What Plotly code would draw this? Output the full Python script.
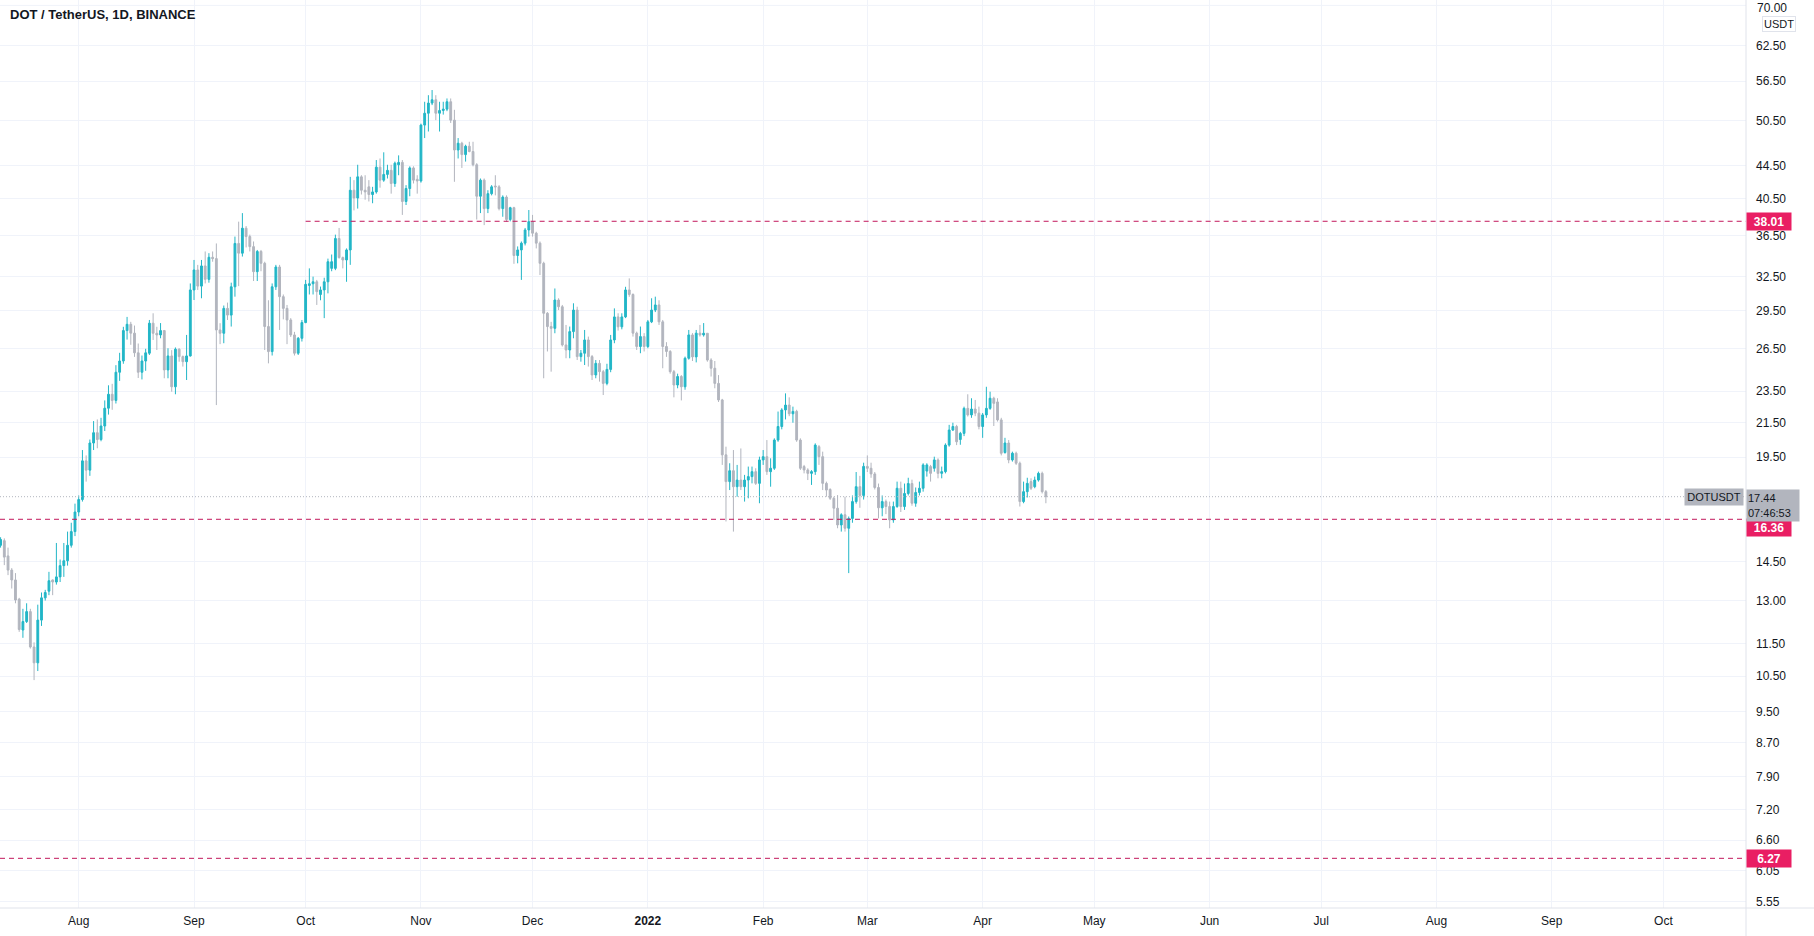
import numpy as np
import pandas as pd
import plotly.graph_objects as go

# ---------------- data: daily OHLC (open, high, low, close) ----------------
jul_2021 = [  # Jul 11 .. Jul 31
    (15.2, 15.55, 15.1, 15.45), (15.4, 15.5, 14.37, 14.7), (14.75, 15.1, 13.97, 14.17),
    (14.17, 14.25, 13.45, 13.78), (13.78, 14.05, 12.9, 13.02), (13.05, 13.1, 11.9, 11.98),
    (11.96, 12.7, 11.7, 12.25), (12.25, 12.9, 12.2, 12.6), (12.6, 12.7, 11.35, 11.4),
    (11.4, 11.55, 10.38, 10.9), (10.9, 12.85, 10.65, 12.3), (12.3, 13.3, 12.1, 13.1),
    (13.1, 13.4, 13.0, 13.3), (13.35, 14.1, 13.2, 13.75), (13.78, 13.8, 13.2, 13.7),
    (13.7, 15.3, 13.6, 13.9), (13.9, 14.6, 13.7, 14.35), (14.35, 15.3, 13.9, 14.55),
    (14.55, 15.8, 14.35, 15.2), (15.2, 16.2, 15.1, 15.8), (15.8, 17.1, 15.6, 16.7),
]
aug_2021 = [
    (16.7, 17.5, 16.5, 17.3), (17.3, 19.9, 17.2, 19.3), (19.3, 19.6, 18.2, 18.8),
    (18.8, 20.5, 18.5, 20.3), (20.3, 21.6, 19.9, 20.9), (20.9, 21.7, 20.0, 20.5),
    (20.5, 21.8, 20.4, 21.3), (21.3, 22.9, 21.0, 22.4), (22.4, 23.9, 22.0, 23.3),
    (23.3, 24.0, 22.3, 22.9), (22.9, 25.3, 22.7, 24.8), (24.8, 26.2, 24.2, 25.6),
    (25.6, 28.2, 25.4, 27.9), (27.9, 29.0, 27.2, 28.4), (28.4, 28.6, 26.8, 27.7),
    (27.7, 28.3, 25.9, 26.2), (26.2, 26.9, 24.4, 24.8), (24.8, 26.0, 24.3, 25.6),
    (25.6, 26.5, 24.9, 26.2), (26.17, 28.75, 26.04, 28.49), (28.49, 29.3, 27.17, 27.69),
    (27.69, 28.2, 26.41, 27.56), (27.56, 28.5, 27.3, 27.9), (27.9, 27.95, 24.38, 24.96),
    (24.96, 26.54, 24.38, 25.97), (25.97, 26.4, 23.47, 23.8), (23.8, 26.6, 23.3, 26.47),
    (26.47, 26.54, 25.55, 25.92), (25.92, 26.0, 25.2, 25.55), (25.55, 27.56, 24.26, 25.97),
    (25.97, 31.88, 25.92, 31.3),
]
sep_2021 = [
    (31.3, 34.07, 30.42, 33.12), (33.12, 33.6, 31.3, 31.64), (31.64, 34.07, 30.57, 33.5),
    (33.5, 34.9, 31.88, 32.25), (32.25, 34.73, 31.95, 34.33), (34.33, 34.9, 33.9, 34.2),
    (34.2, 35.7, 22.6, 27.95), (27.95, 28.49, 26.85, 27.69), (27.69, 29.95, 26.92, 29.71),
    (29.71, 30.2, 28.75, 29.15), (29.15, 31.95, 28.22, 31.58), (31.58, 36.4, 30.71, 35.7),
    (35.7, 37.97, 31.64, 34.73), (34.73, 38.9, 34.4, 37.27), (37.27, 37.5, 35.3, 36.4),
    (36.4, 36.6, 34.9, 35.38), (35.38, 35.9, 32.1, 32.96), (32.96, 35.05, 32.1, 34.9),
    (34.9, 35.05, 33.0, 33.75), (33.75, 33.9, 26.41, 28.22), (28.22, 30.4, 25.43, 26.29),
    (26.29, 31.88, 26.0, 31.58), (31.58, 33.6, 31.3, 33.4), (33.4, 33.6, 27.95, 30.71),
    (30.71, 30.9, 28.8, 29.71), (29.71, 30.0, 26.85, 28.75), (28.75, 28.9, 27.4, 27.56),
    (27.56, 27.8, 26.0, 26.17), (26.17, 27.4, 26.04, 27.3), (27.3, 28.75, 27.05, 28.54),
]
oct_2021 = [
    (28.54, 32.2, 28.49, 31.8), (31.7, 33.27, 30.9, 31.85), (31.85, 32.5, 30.9, 32.03),
    (32.03, 32.2, 30.0, 31.15), (30.9, 31.6, 30.4, 31.3), (31.3, 32.4, 28.9, 32.03),
    (32.03, 34.2, 31.0, 33.9), (33.27, 34.6, 33.0, 33.9), (33.27, 36.6, 33.1, 36.2),
    (36.2, 37.3, 34.2, 34.3), (34.3, 34.4, 33.27, 34.07), (34.07, 35.2, 32.03, 35.05),
    (35.05, 43.1, 33.6, 41.5), (41.5, 42.7, 39.2, 40.6), (40.6, 44.6, 39.4, 43.1),
    (43.1, 43.3, 41.0, 41.5), (41.5, 43.3, 40.4, 41.3), (41.9, 42.7, 40.2, 41.0),
    (41.0, 41.9, 40.0, 41.3), (41.3, 45.2, 41.1, 44.3), (44.3, 45.4, 41.8, 42.7),
    (42.7, 46.2, 42.5, 43.4), (43.4, 44.6, 42.9, 43.9), (43.9, 44.6, 41.1, 42.3),
    (42.3, 45.0, 41.9, 44.8), (44.6, 45.8, 43.3, 44.9), (44.9, 45.2, 38.7, 40.2),
    (40.2, 42.1, 39.8, 41.7), (41.7, 44.4, 40.8, 44.2), (44.2, 44.4, 42.3, 42.7),
    (42.8, 43.3, 41.1, 42.6),
]
nov_2021 = [
    (42.6, 50.1, 42.4, 49.9), (49.9, 53.3, 48.1, 51.6), (51.6, 54.3, 49.0, 53.1),
    (53.1, 55.1, 52.8, 53.6), (53.6, 54.3, 50.6, 51.6), (51.6, 53.3, 49.0, 52.0),
    (52.0, 53.3, 51.4, 52.2), (52.2, 53.8, 51.9, 53.3), (53.3, 53.8, 50.2, 50.6),
    (50.6, 52.1, 42.5, 46.5), (46.5, 48.1, 45.4, 47.4), (47.4, 47.6, 44.2, 45.9),
    (45.9, 47.2, 45.0, 47.0), (47.0, 47.6, 46.2, 46.3), (46.3, 47.6, 44.4, 44.6),
    (44.6, 44.8, 38.2, 40.8), (40.8, 42.9, 38.9, 42.7), (42.7, 42.9, 37.6, 39.4),
    (39.4, 41.5, 38.9, 41.1), (41.1, 42.1, 40.9, 41.9), (42.0, 43.3, 40.9, 41.9),
    (41.9, 42.1, 39.2, 39.4), (39.4, 40.9, 38.5, 40.7), (40.7, 40.9, 37.97, 38.2),
    (38.2, 39.6, 38.0, 39.5), (39.5, 39.6, 33.7, 34.5), (34.5, 35.4, 33.75, 35.05),
    (35.05, 35.9, 32.2, 35.73), (35.73, 37.3, 35.5, 37.09), (37.09, 39.24, 36.4, 37.97),
]
dec_2021 = [
    (37.97, 38.7, 36.4, 36.75), (36.75, 36.9, 35.2, 35.73), (35.73, 35.9, 32.65, 33.75),
    (33.75, 33.9, 24.38, 29.3), (29.3, 29.4, 26.3, 28.22), (28.22, 28.6, 24.84, 28.08),
    (28.08, 31.43, 27.69, 30.42), (30.42, 30.57, 29.57, 29.85), (29.85, 30.0, 26.67, 26.79),
    (26.79, 28.35, 25.8, 26.41), (26.41, 28.22, 25.8, 27.82), (27.82, 30.14, 27.3, 29.57),
    (29.57, 29.85, 25.67, 25.92), (25.92, 26.41, 25.55, 26.17), (26.17, 27.95, 25.31, 27.17),
    (27.17, 27.43, 25.2, 25.92), (25.92, 26.04, 24.26, 24.61), (24.61, 25.67, 24.38, 25.43),
    (25.43, 25.67, 24.15, 24.84), (24.84, 24.96, 23.25, 24.03), (24.03, 25.4, 23.9, 25.0),
    (25.0, 27.56, 24.8, 27.17), (27.17, 29.71, 26.92, 29.0), (29.0, 29.3, 27.9, 28.2),
    (28.2, 29.3, 28.0, 29.0), (29.0, 31.58, 28.9, 31.3), (31.3, 32.34, 30.7, 30.9),
    (30.9, 31.0, 27.43, 27.7), (27.7, 27.82, 26.41, 26.67), (26.67, 28.22, 26.17, 27.43),
    (27.43, 27.7, 26.3, 26.67),
]
jan_2022 = [
    (26.67, 28.75, 26.54, 28.6), (28.6, 30.57, 28.5, 29.57), (29.57, 30.71, 29.4, 30.0),
    (30.0, 30.4, 28.35, 28.6), (28.6, 28.75, 25.08, 26.67), (26.67, 27.0, 25.9, 26.3),
    (26.3, 26.4, 24.7, 24.84), (24.84, 24.96, 23.1, 23.92), (23.92, 24.7, 23.7, 24.5),
    (24.5, 24.6, 22.9, 23.8), (23.8, 25.92, 23.6, 25.8), (25.8, 27.95, 25.7, 27.56),
    (27.56, 27.7, 25.6, 25.9), (25.9, 27.95, 25.5, 27.7), (27.7, 28.35, 27.43, 27.56),
    (27.56, 28.5, 27.43, 27.69), (27.69, 27.69, 25.55, 25.67), (25.67, 25.8, 24.5, 25.08),
    (25.08, 25.6, 23.7, 24.03), (24.03, 24.6, 22.8, 22.93), (22.93, 23.0, 19.08, 19.63),
    (19.63, 20.09, 16.26, 18.2), (18.2, 19.17, 17.77, 18.77), (18.77, 19.9, 15.8, 17.94),
    (17.94, 19.08, 17.44, 18.28), (18.28, 19.99, 17.77, 17.94), (17.94, 18.55, 17.2, 18.28),
    (18.28, 18.99, 17.36, 18.46), (18.46, 18.99, 18.11, 18.72), (18.72, 18.9, 18.03, 18.11),
    (18.11, 19.53, 17.12, 19.35),
]
feb_2022 = [
    (19.35, 19.9, 19.08, 19.53), (19.53, 20.47, 18.55, 18.72), (18.72, 19.44, 17.94, 18.9),
    (18.9, 20.57, 18.81, 20.47), (20.47, 22.19, 20.37, 21.27), (21.27, 22.4, 21.1, 22.29),
    (22.29, 23.36, 21.7, 22.6), (22.6, 23.1, 21.9, 22.05), (22.05, 22.5, 21.5, 22.2),
    (22.2, 22.3, 20.37, 20.47), (20.47, 20.57, 18.81, 18.9), (18.99, 19.08, 18.63, 18.81),
    (18.81, 18.9, 18.28, 18.63), (18.63, 18.8, 18.03, 18.72), (18.72, 20.28, 18.55, 20.18),
    (20.09, 20.18, 19.08, 19.53), (19.53, 19.81, 17.77, 18.11), (18.11, 18.2, 17.44, 17.77),
    (17.8, 17.86, 17.28, 17.36), (17.36, 17.44, 16.33, 16.88), (16.88, 17.52, 15.95, 16.1),
    (16.1, 16.64, 15.8, 16.57), (16.57, 17.44, 15.8, 15.95), (15.95, 16.49, 14.05, 16.4),
    (16.4, 17.5, 16.2, 17.2), (17.2, 18.7, 17.1, 17.94), (17.94, 18.5, 16.9, 17.5),
    (17.5, 19.2, 17.3, 19.0),
]
mar_2022 = [
    (19.0, 19.6, 18.7, 18.9), (18.9, 19.2, 18.4, 18.6), (18.6, 18.7, 17.8, 17.9),
    (17.9, 18.1, 16.4, 16.9), (16.9, 17.5, 16.5, 17.2), (17.2, 17.3, 16.6, 16.96),
    (16.96, 17.2, 15.95, 16.33), (16.33, 17.2, 16.2, 16.96), (16.96, 18.2, 16.9, 17.86),
    (17.86, 18.2, 16.7, 16.96), (16.96, 18.1, 16.8, 17.6), (17.6, 18.4, 17.5, 18.1),
    (18.1, 18.3, 17.0, 17.12), (17.12, 17.9, 16.95, 17.65), (17.65, 18.2, 17.5, 17.86),
    (17.86, 19.17, 17.69, 19.08), (18.75, 19.17, 18.46, 19.08), (18.99, 19.08, 18.2, 18.63),
    (18.9, 19.53, 18.72, 19.35), (19.35, 19.44, 18.37, 18.63), (18.63, 18.99, 18.37, 18.72),
    (18.72, 20.28, 18.63, 20.18), (20.18, 21.37, 20.09, 21.06), (21.06, 21.5, 21.0, 21.27),
    (21.27, 21.37, 20.18, 20.37), (20.5, 20.95, 20.2, 20.86), (20.86, 22.5, 20.7, 22.39),
    (22.39, 23.3, 21.88, 21.98), (21.98, 23.04, 21.8, 22.35), (22.35, 22.93, 21.9, 22.09),
    (22.09, 22.5, 21.1, 21.27),
]
apr_2022 = [  # Apr 1 .. Apr 18
    (21.27, 22.1, 20.6, 21.98), (21.98, 23.8, 21.8, 22.39), (22.39, 23.47, 22.3, 23.04),
    (23.04, 23.14, 21.3, 22.71), (22.8, 23.04, 21.57, 21.67), (21.67, 21.8, 19.6, 19.72),
    (19.76, 20.6, 19.7, 20.3), (20.3, 20.47, 19.17, 19.35), (19.35, 19.81, 19.26, 19.72),
    (19.72, 19.81, 19.08, 19.17), (19.17, 19.26, 16.96, 17.2), (17.2, 18.2, 17.12, 17.69),
    (17.69, 18.4, 17.4, 18.11), (18.2, 18.37, 17.77, 17.86), (17.94, 18.46, 17.86, 18.28),
    (18.28, 18.72, 18.2, 18.63), (18.63, 18.72, 17.6, 17.69), (17.69, 17.77, 17.12, 17.44),
]
first_day = "2021-07-11"

# horizontal levels drawn on the chart
level_values = [38.01, 16.36, 6.27]
level_starts = ["2021-10-01", None, None]
last_price = 17.44
countdown = "07:46:53"

y_tick_values = [62.50, 56.50, 50.50, 44.50, 40.50, 36.50, 32.50, 29.50, 26.50,
                 23.50, 21.50, 19.50, 14.50, 13.00, 11.50, 10.50, 9.50, 8.70, 7.90,
                 7.20, 6.60, 6.05, 5.55]
y_top_tick = 70.00
x_tick_dates = ["2021-08-01", "2021-09-01", "2021-10-01", "2021-11-01", "2021-12-01",
                "2022-01-01", "2022-02-01", "2022-03-01", "2022-04-01", "2022-05-01",
                "2022-06-01", "2022-07-01", "2022-08-01", "2022-09-01", "2022-10-01"]
x_tick_text = ["Aug", "Sep", "Oct", "Nov", "Dec", "<b>2022</b>", "Feb", "Mar", "Apr",
               "May", "Jun", "Jul", "Aug", "Sep", "Oct"]

# ---------------- build ----------------
rows = jul_2021 + aug_2021 + sep_2021 + oct_2021 + nov_2021 + dec_2021 + jan_2022 + feb_2022 + mar_2022 + apr_2022
ohlc = pd.DataFrame(rows, columns=["open", "high", "low", "close"])
ohlc["date"] = pd.date_range(first_day, periods=len(ohlc), freq="D")

W, H = 1814, 936
ML, MR, MT, MB = 0, 68, 0, 28
PW, PH = W - ML - MR, H - MT - MB

x_start = pd.Timestamp("2021-07-10 20:10")
x_end = pd.Timestamp("2022-10-23 05:00")
y_lo, y_hi = 5.448, 71.08

UP = "#22b6c7"
DOWN = "#b2b5be"
LEVEL = "#c2185b"
LABEL_BG = "#e91e63"
TXT = "#131722"
GRID = "#f0f3fa"
BORDER = "#e0e3eb"
FONT = "Liberation Sans"

fig = go.Figure()
fig.add_trace(go.Candlestick(
    x=ohlc["date"], open=ohlc["open"], high=ohlc["high"], low=ohlc["low"], close=ohlc["close"],
    increasing=dict(line=dict(color=UP, width=1), fillcolor=UP),
    decreasing=dict(line=dict(color=DOWN, width=1), fillcolor=DOWN),
    whiskerwidth=0, hoverinfo="skip", showlegend=False,
))

# level lines
for val, start in zip(level_values, level_starts):
    s = pd.Timestamp(start) if start else x_start
    fig.add_trace(go.Scatter(x=[s, x_end], y=[val, val], mode="lines",
                             line=dict(color=LEVEL, width=1, dash="5px,4px"),
                             hoverinfo="skip", showlegend=False))
# last price dotted line
fig.add_trace(go.Scatter(x=[x_start, x_end], y=[last_price, last_price], mode="lines",
                         line=dict(color="#b2b5be", width=1, dash="1px,2px"),
                         hoverinfo="skip", showlegend=False))
# top grid line (70.00)
fig.add_trace(go.Scatter(x=[x_start, x_end], y=[y_top_tick, y_top_tick], mode="lines",
                         line=dict(color=GRID, width=1), hoverinfo="skip", showlegend=False))

ann = []
ann.append(dict(xref="paper", yref="paper", x=8 / PW, y=1 - 15 / PH, xanchor="left", yanchor="middle",
                text="<b>DOT / TetherUS, 1D, BINANCE</b>", showarrow=False,
                font=dict(family=FONT, size=13, color=TXT)))
# top tick label, nudged down to stay inside the page
ann.append(dict(xref="paper", yref="y", x=1, y=np.log10(y_top_tick), xanchor="left", yanchor="middle",
                xshift=9, yshift=-3, text=f"{y_top_tick:.2f}", showarrow=False,
                font=dict(family=FONT, size=12, color=TXT)))
# level labels on price scale
shifts = {38.01: 0, 16.36: -8, 6.27: 0}
for val in level_values:
    ann.append(dict(xref="paper", yref="y", x=1, y=np.log10(val), xanchor="left", yanchor="middle",
                    yshift=shifts.get(val, 0), text=f"<b>{val:.2f}</b>", showarrow=False,
                    bgcolor=LABEL_BG, width=42, height=15, borderpad=1,
                    font=dict(family=FONT, size=12, color="white")))
# last price label
ann.append(dict(xref="paper", yref="y", x=1, y=np.log10(last_price), xanchor="left", yanchor="top",
                yshift=8, text=f"{last_price:.2f}<br>{countdown}", showarrow=False, align="left",
                bgcolor="#b2b5be", width=50, height=29, borderpad=1,
                font=dict(family=FONT, size=11, color=TXT)))
ann.append(dict(xref="paper", yref="y", x=1, y=np.log10(last_price), xanchor="right", yanchor="middle",
                xshift=-2, text="DOTUSDT", showarrow=False,
                bgcolor="#b2b5be", width=56, height=14, borderpad=1,
                font=dict(family=FONT, size=11, color=TXT)))
# currency box (just below the top tick label)
ann.append(dict(xref="paper", yref="paper", x=1 + 16 / PW, y=1 - 24 / PH, xanchor="left", yanchor="middle",
                text="USDT", showarrow=False, bgcolor="white", bordercolor=BORDER, borderwidth=1,
                borderpad=1, font=dict(family=FONT, size=11, color=TXT)))

shapes = [
    # right price-scale separator, extends to bottom of page
    dict(type="line", xref="paper", yref="paper", x0=1, x1=1, y0=-MB / PH, y1=1,
         line=dict(color=BORDER, width=1)),
    # bottom time-scale separator, across full width
    dict(type="line", xref="paper", yref="paper", x0=0, x1=1 + MR / PW, y0=0, y1=0,
         line=dict(color=BORDER, width=1)),
]

fig.update_layout(
    width=W, height=H, autosize=False,
    margin=dict(l=ML, r=MR, t=MT, b=MB, pad=0),
    paper_bgcolor="white", plot_bgcolor="white",
    showlegend=False, annotations=ann, shapes=shapes,
    font=dict(family=FONT, size=12, color=TXT),
    xaxis=dict(type="date", range=[x_start, x_end], rangeslider=dict(visible=False),
               tickvals=pd.to_datetime(x_tick_dates), ticktext=x_tick_text,
               showgrid=True, gridcolor=GRID, gridwidth=1, zeroline=False,
               showline=False, ticks="", tickfont=dict(family=FONT, size=12, color=TXT),
               ticklabelstandoff=4, fixedrange=True),
    yaxis=dict(type="log", range=[np.log10(y_lo), np.log10(y_hi)], side="right",
               tickvals=y_tick_values, ticktext=[f"{v:.2f}" for v in y_tick_values],
               showgrid=True, gridcolor=GRID, gridwidth=1, zeroline=False,
               showline=False, ticks="", tickfont=dict(family=FONT, size=12, color=TXT),
               ticklabelstandoff=9, fixedrange=True),
)

fig.write_html("out.html", config={"displayModeBar": False})
